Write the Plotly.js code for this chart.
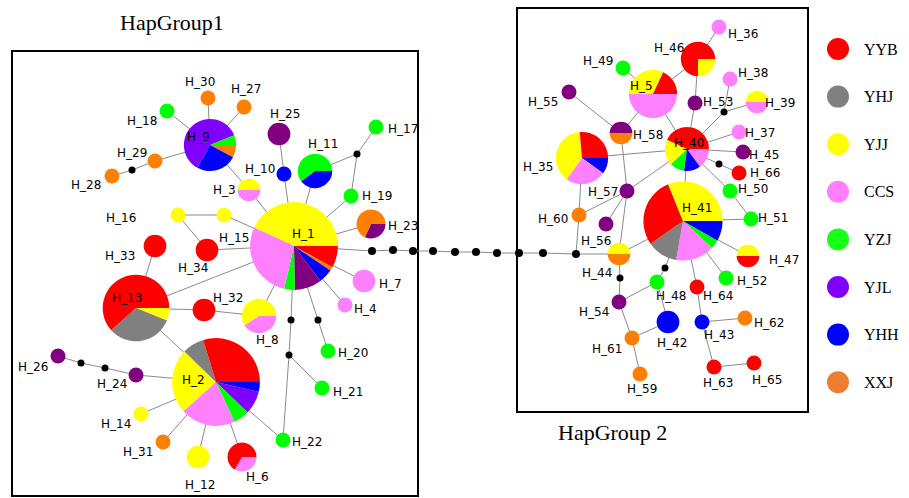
<!DOCTYPE html>
<html><head><meta charset="utf-8">
<script src="https://cdn.plot.ly/plotly-3.0.1.min.js"></script>
<style>html,body{margin:0;padding:0;background:#fff;} #chart{width:909px;height:498px;}</style>
</head><body><div id="chart"></div>
<script>
// ---------- data ----------
const groups = ['YYB','YHJ','YJJ','CCS','YZJ','YJL','YHH','XXJ'];
const hapNames = [];
for (let i = 1; i <= 66; i++) hapNames.push('H_' + i);
// haplotype frequency (node size)
const hapCount = [19,19,2,1,7,3,2,4,8,1, 4,2,12,1,1,1,1,1,1,1, 1,1,3,1,2,1,1,1,1,1,
                  1,2,2,2,8,1,1,1,2,6, 16,2,1,2,1,4,2,1,1,1, 1,1,1,1,1,1,1,2,1,1, 1,1,1,1,1,1];
// slice groups (counter-clockwise from east); P2 = dark purple
const hapGroups = [
 ['YJJ','CCS','YZJ','P2','YHH','XXJ','YYB'], ['YYB','YHJ','YJJ','CCS','YZJ','YJL','YHH'], ['YJJ','CCS'], ['CCS'],
 ['YYB','YJJ','CCS'], ['YYB','CCS'], ['CCS'], ['YJJ','CCS'], ['YZJ','YJL','YHH','XXJ'], ['YHH'],
 ['YZJ','YHH'], ['YJJ'], ['YYB','YHJ','YJJ'], ['YJJ'], ['YJJ'], ['YJJ'], ['YZJ'], ['YZJ'], ['YZJ'], ['YZJ'],
 ['YZJ'], ['YZJ'], ['XXJ','P2'], ['P2'], ['P2'], ['P2'], ['XXJ'], ['XXJ'], ['XXJ'], ['XXJ'],
 ['XXJ'], ['YYB'], ['YYB'], ['YYB'], ['YYB','YJJ','CCS','YHH'], ['CCS'], ['CCS'], ['CCS'], ['YJJ','CCS'], ['YYB','YJJ','YZJ','YHH','CCS'],
 ['YJJ','YYB','YHJ','CCS','YZJ','YHH'], ['YHH'], ['YHH'], ['YJJ','XXJ'], ['P2'], ['YYB','YJJ'], ['YJJ','YYB'], ['YZJ'], ['YZJ'], ['YZJ'],
 ['YZJ'], ['YZJ'], ['P2'], ['P2'], ['P2'], ['P2'], ['P2'], ['P2','XXJ'], ['XXJ'], ['XXJ'],
 ['XXJ'], ['XXJ'], ['YYB'], ['YYB'], ['YYB'], ['YYB']
];
const hapShares = [
 [155,102,14,36,19,5,29], [107,29,86,73,21,31,13], [1,1], [1],
 [65,115,180], [2,1], [1], [212,148], [22,219,91,28], [1],
 [217,143], [1], [222,116,22], [1], [1], [1], [1], [1], [1], [1],
 [1], [1], [245,115], [1], [1], [1], [1], [1], [1], [1],
 [1], [1], [1], [1], [95,139,90,36], [1], [1], [1], [1,1], [155,68,39,44,54],
 [112,103,45,57,13,30], [1], [1], [1,1], [1], [3,1], [1,1], [1], [1], [1],
 [1], [1], [1], [1], [1], [1], [1], [1,1], [1], [1],
 [1], [1], [1], [1], [1], [1]
];
// network layout
const nodeX = [294,216,249,345,653,242,364,259,210,284, 315,198,136,141,224,178,376,167,351,328,
               322,283,371,136,279,58,244,112,155,208, 163,204,155,207,582,719,739,730,757,687,
               683,668,702,619,743,698,748,657,623,730, 751,726,695,619,569,606,627,621,640,579,
               632,745,714,697,754,739];
const nodeY = [246,382,190,305,94,457,281,316,145,174, 171,457,308,414,215,215,127,111,196,351,
               388,440,224,375,134,356,107,176,161,98, 442,310,246,250,158,27,132,79,102,149,
               221,322,322,254,152,59,256,282,68,191, 219,278,103,302,92,224,191,133,374,215,
               338,318,367,287,363,173];
const labelX = [303,193,224,365,641,257,390,267,198,260, 323,200,127,116,234,121,403,142,377,353,
                348,307,403,112,285,33,246,86,132,200, 138,228,120,193,538,743,760,753,780,689,
                697,672,719,597,764,669,784,671,598,753, 773,752,718,594,543,596,603,648,642,553,
                607,769,718,718,767,765];
const labelY = [234,380,190,309,86,477,284,340,137,169, 144,485,298,424,238,218,129,121,196,353,
                392,442,226,384,114,367,89,185,153,82, 452,298,256,268,167,34,133,73,103,143,
                208,343,335,273,155,48,260,296,61,189, 218,281,102,312,102,241,192,135,389,219,
                349,323,383,296,380,173];
// median vectors (black dots)
const mvNames = ['m1','m2','m3','m4','m5','m6','m7','r1','r2','r3','r4','j',
                 'c1','c2','c3','c4','c5','c6','c7','c8','c9'];
const mvX = [132,357,318,291,289,81,105,724,719,665,620,576, 372,393,413,433,455,476,497,519,543];
const mvY = [170,154,320,320,355,363,368,112,164,268,278,254, 251,250,251,251,252,252,253,253,253];
const edges = [
 ['H_30','H_9'],['H_27','H_9'],['H_18','H_9'],['H_29','H_9'],['H_29','m1'],['m1','H_28'],
 ['H_9','H_3'],['H_3','H_1'],['H_25','H_10'],['H_10','H_1'],['H_11','H_1'],['H_11','m2'],['m2','H_17'],['m2','H_19'],
 ['H_19','H_1'],['H_23','H_1'],['H_1','H_7'],['H_1','H_4'],['H_1','m3'],['m3','H_20'],['H_1','m4'],['m4','m5'],
 ['m5','H_21'],['m5','H_22'],['H_1','H_8'],['H_1','H_34'],['H_1','H_15'],['H_15','H_16'],['H_16','H_34'],
 ['H_33','H_13'],['H_13','H_1'],['H_13','H_32'],['H_32','H_8'],['H_13','H_2'],['H_2','H_24'],['H_24','m7'],['m7','m6'],
 ['m6','H_26'],['H_2','H_14'],['H_2','H_31'],['H_2','H_12'],['H_2','H_6'],['H_2','H_22'],
 ['H_1','c1'],['c1','c2'],['c2','c3'],['c3','c4'],['c4','c5'],['c5','c6'],['c6','c7'],['c7','c8'],['c8','c9'],['c9','j'],['j','H_44'],
 ['H_36','H_46'],['H_46','H_5'],['H_46','H_53'],['H_49','H_5'],['H_5','H_58'],['H_5','H_40'],['H_55','H_58'],['H_53','H_40'],
 ['H_38','r1'],['r1','H_39'],['r1','H_40'],['H_40','H_37'],['H_40','H_45'],['H_40','r2'],['r2','H_66'],['H_40','H_35'],
 ['H_40','H_50'],['H_50','H_51'],['H_41','H_51'],['H_40','H_41'],['H_40','H_57'],['H_58','H_57'],['H_57','H_44'],['H_57','H_60'],
 ['H_57','H_56'],['H_35','H_60'],['H_60','j'],['H_44','H_41'],['H_41','H_47'],['H_41','H_52'],['H_41','H_64'],['H_41','r3'],
 ['r3','H_48'],['H_44','r4'],['r4','H_54'],['H_54','H_48'],['H_54','H_61'],['H_61','H_42'],['H_42','H_48'],['H_61','H_59'],
 ['H_64','H_43'],['H_43','H_62'],['H_43','H_63'],['H_63','H_65']
];
const legendNames = ['YYB','YHJ','YJJ','CCS','YZJ','YJL','YHH','XXJ'];

// ---------- styles ----------
const colorOf = {YYB:'#FF0000',YHJ:'#808080',YJJ:'#FFFF00',CCS:'#FF80FF',YZJ:'#00FF00',
                 YJL:'#8000FF',YHH:'#0000FF',XXJ:'#FF8000',P2:'#800080'};
const legendColor = {YYB:'#FF0000',YHJ:'#808080',YJJ:'#FFFF00',CCS:'#FF80FF',YZJ:'#19FF19',
                     YJL:'#8000FF',YHH:'#0000FF',XXJ:'#ED7D31'};
const W = 909, H = 498;
const xr = [0, W], yr = [H, 0];
const radius = n => 7.5 * Math.pow(n, 0.6);
const toPX = x => (x - xr[0]) / (xr[1] - xr[0]);
const toPY = y => (y - yr[0]) / (yr[1] - yr[0]);

function pos(name) {
  let i = hapNames.indexOf(name);
  if (i >= 0) return [nodeX[i], nodeY[i]];
  i = mvNames.indexOf(name);
  return [mvX[i], mvY[i]];
}

const traces = [];
// edges
const ex = [], ey = [];
edges.forEach(([a, b]) => { const p = pos(a), q = pos(b); ex.push(p[0], q[0], null); ey.push(p[1], q[1], null); });
traces.push({type:'scatter', mode:'lines', x:ex, y:ey, line:{color:'#8a8a8a', width:1}, hoverinfo:'skip', showlegend:false});
// median vectors
traces.push({type:'scatter', mode:'markers', x:mvX, y:mvY,
  marker:{color:'#000', opacity:1, size:mvNames.map(n => n[0]==='c' || n==='j' ? 8 : 7), line:{width:0}}, hoverinfo:'skip', showlegend:false});
// single-colour nodes
const sx = [], sy = [], ss = [], sc = [];
hapNames.forEach((n, i) => {
  if (hapGroups[i].length === 1) {
    sx.push(nodeX[i]); sy.push(nodeY[i]); ss.push(2 * radius(hapCount[i])); sc.push(colorOf[hapGroups[i][0]]);
  }
});
traces.push({type:'scatter', mode:'markers', x:sx, y:sy, marker:{size:ss, color:sc, line:{width:0}, opacity:1},
  hoverinfo:'skip', showlegend:false});
// legend markers
traces.push({type:'scatter', mode:'markers', x:legendNames.map(() => 838), y:legendNames.map((_, i) => 49 + i * 47.6),
  marker:{size:22, opacity:1, color:legendNames.map(g => legendColor[g]), line:{width:0}}, hoverinfo:'skip', showlegend:false});
// pie nodes
hapNames.forEach((n, i) => {
  if (hapGroups[i].length > 1) {
    const r = radius(hapCount[i]);
    const g = hapGroups[i].slice().reverse();
    const v = hapShares[i].slice().reverse();
    traces.push({type:'pie', values:v, labels:g.map((k, j) => n + '_' + k + j),
      marker:{colors:g.map(k => colorOf[k]), line:{width:0}},
      sort:false, direction:'clockwise', rotation:90, textinfo:'none', hoverinfo:'skip', showlegend:false,
      domain:{x:[toPX(nodeX[i] - r), toPX(nodeX[i] + r)], y:[toPY(nodeY[i] + r), toPY(nodeY[i] - r)]}});
  }
});

const annotations = [];
hapNames.forEach((n, i) => annotations.push({x:labelX[i], y:labelY[i], xref:'x', yref:'y', text:n, showarrow:false,
  xanchor:'center', yanchor:'middle', font:{family:'DejaVu Sans, Verdana, sans-serif', size:12, color:'#000'}}));
legendNames.forEach((g, i) => annotations.push({x:862, y:49 + i * 47.6, xref:'x', yref:'y', text:g, showarrow:false,
  xanchor:'left', yanchor:'middle', font:{family:'Liberation Serif, Times New Roman, serif', size:16, color:'#000'}}));
annotations.push({x:172, y:22, xref:'x', yref:'y', text:'HapGroup1', showarrow:false, xanchor:'center', yanchor:'middle',
  font:{family:'Liberation Serif, Times New Roman, serif', size:22, color:'#000'}});
annotations.push({x:612, y:432, xref:'x', yref:'y', text:'HapGroup 2', showarrow:false, xanchor:'center', yanchor:'middle',
  font:{family:'Liberation Serif, Times New Roman, serif', size:22, color:'#000'}});

const layout = {
  width:W, height:H, margin:{l:0, r:0, t:0, b:0}, paper_bgcolor:'#fff', plot_bgcolor:'#fff',
  hovermode:false, showlegend:false,
  xaxis:{range:xr, visible:false, fixedrange:true},
  yaxis:{range:yr, visible:false, fixedrange:true},
  shapes:[
    {type:'rect', xref:'x', yref:'y', x0:12, y0:51, x1:418, y1:496, line:{color:'#000', width:2}, layer:'below'},
    {type:'rect', xref:'x', yref:'y', x0:517, y0:8, x1:808, y1:412, line:{color:'#000', width:2}, layer:'below'}
  ],
  annotations:annotations
};
Plotly.newPlot('chart', traces, layout, {staticPlot:true, displayModeBar:false});
</script></body></html>
